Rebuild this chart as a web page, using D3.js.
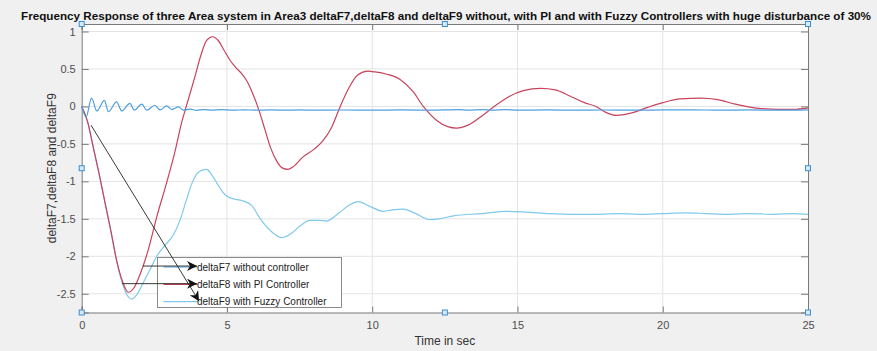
<!DOCTYPE html>
<html>
<head>
<meta charset="utf-8">
<script src="https://cdn.jsdelivr.net/npm/d3@7"></script>
<style>
  body { margin: 0; background: #f0f0f0; }
  text { font-family: "Liberation Sans", Arial, sans-serif; }
</style>
</head>
<body>
<div id="d3-container"></div>
<script>
// series: [time in sec, value]
const deltaF7 = [
    [0, 0], [0.15, -0.14], [0.34, 0.11], [0.52, -0.06], [0.78, 0.08], [0.92, -0.07],
    [1.2, 0.06], [1.38, -0.06], [1.66, 0.04], [1.81, -0.05], [2.07, 0.03], [2.24, -0.05],
    [2.52, 0.016], [2.7, -0.047], [2.93, 0.007], [3.1, -0.04], [3.33, -0.007], [3.5, -0.05],
    [3.73, -0.037], [3.95, -0.052], [4.2, -0.042], [4.5, -0.05], [4.8, -0.043], [5.2, -0.05],
    [5.6, -0.045], [6.0, -0.05], [6.5, -0.046], [7.0, -0.05], [7.5, -0.046], [8.0, -0.05],
    [9, -0.048], [10, -0.05], [11, -0.047], [12, -0.05], [13, -0.043], [13.3, -0.05],
    [13.8, -0.042], [14.1, -0.05], [14.6, -0.043], [15, -0.05], [16, -0.047], [17, -0.05],
    [18, -0.048], [19, -0.05], [20, -0.047], [21, -0.045], [22, -0.05], [23, -0.047],
    [24, -0.05], [25, -0.045]
];

const deltaF8 = [
    [0, 0], [0.2, -0.2], [0.4, -0.55], [0.6, -0.9], [0.8, -1.28], [1.0, -1.65], [1.2, -2.05],
    [1.4, -2.33], [1.6, -2.48], [1.8, -2.42], [2.0, -2.25], [2.3, -1.9], [2.6, -1.45],
    [2.9, -1.05], [3.2, -0.62], [3.45, -0.2], [3.6, 0.0], [3.9, 0.4], [4.1, 0.68], [4.3, 0.88],
    [4.5, 0.93], [4.7, 0.88], [4.9, 0.75], [5.1, 0.62], [5.3, 0.52], [5.5, 0.44], [5.7, 0.33],
    [5.9, 0.16], [6.1, -0.05], [6.3, -0.3], [6.5, -0.55], [6.7, -0.72], [6.9, -0.82],
    [7.1, -0.84], [7.3, -0.8], [7.6, -0.68], [8.0, -0.57], [8.3, -0.46], [8.6, -0.28],
    [8.9, 0.0], [9.2, 0.25], [9.5, 0.42], [9.85, 0.47], [10.1, 0.46], [10.5, 0.43],
    [10.96, 0.36], [11.4, 0.2], [11.76, 0], [12.2, -0.18], [12.6, -0.27], [12.9, -0.29],
    [13.3, -0.25], [13.8, -0.12], [14.2, 0], [14.7, 0.13], [15.2, 0.21], [15.8, 0.24],
    [16.3, 0.22], [16.8, 0.14], [17.3, 0.05], [17.7, 0], [18.1, -0.09], [18.4, -0.12],
    [18.9, -0.09], [19.5, -0.01], [20.0, 0.05], [20.6, 0.1], [21.3, 0.11], [21.9, 0.09],
    [22.5, 0.03], [23.0, -0.01], [23.4, -0.03], [24, -0.04], [24.5, -0.04], [25, -0.02]
];

const deltaF9 = [
    [0, 0], [0.2, -0.2], [0.4, -0.55], [0.6, -0.9], [0.8, -1.28], [1.0, -1.66], [1.2, -2.06],
    [1.4, -2.36], [1.55, -2.51], [1.72, -2.57], [1.9, -2.51], [2.12, -2.35], [2.35, -2.18],
    [2.58, -2.0], [2.85, -1.86], [3.15, -1.72], [3.4, -1.5], [3.61, -1.24], [3.8, -1.02],
    [3.96, -0.9], [4.15, -0.85], [4.3, -0.84], [4.45, -0.9], [4.65, -1.02], [4.85, -1.14],
    [5.0, -1.2], [5.3, -1.24], [5.55, -1.26], [5.85, -1.32], [6.15, -1.5], [6.5, -1.66],
    [6.88, -1.75], [7.2, -1.7], [7.5, -1.6], [7.86, -1.52], [8.15, -1.52], [8.43, -1.53],
    [8.8, -1.44], [9.2, -1.32], [9.52, -1.27], [9.9, -1.33], [10.38, -1.4], [10.7, -1.38],
    [11.07, -1.37], [11.5, -1.43], [11.99, -1.51], [12.3, -1.5], [12.8, -1.46], [13.8, -1.43],
    [14.6, -1.4], [15.3, -1.41], [16.1, -1.43], [17.0, -1.44], [17.8, -1.44], [18.5, -1.43],
    [19.2, -1.44], [20, -1.43], [20.8, -1.42], [21.5, -1.43], [22.3, -1.44], [23, -1.43],
    [23.8, -1.44], [24.5, -1.43], [25, -1.44]
];

const xTicks = [0, 5, 10, 15, 20, 25];
const yTicks = [1, 0.5, 0, -0.5, -1, -1.5, -2, -2.5];
const legendLabels = ['deltaF7 without controller', 'deltaF8 with PI Controller', 'deltaF9 with Fuzzy Controller'];
const colors = ['#4f9fdf', '#c8435d', '#7fc9ec'];

// annotation arrows, in data units: [t0, v0, t1, v1]
const arrows = [
    [2.11, -2.13, 3.97, -2.13],
    [1.39, -2.365, 3.97, -2.365],
    [0.32, -0.25, 4.04, -2.6]
];

const width = 877;
const height = 351;
const margin = {top: 24, bottom: 38.5, left: 81.7, right: 69};

const svg = d3.select('#d3-container')
    .append('svg')
    .attr('width', width)
    .attr('height', height)
    .attr('viewBox', [0, 0, width, height]);

svg.append('rect').attr('width', width).attr('height', height).attr('fill', '#f0f0f0');

const x = d3.scaleLinear()
    .domain([0, 25])
    .range([margin.left, width - margin.right]);

const y = d3.scaleLinear()
    .domain([-2.75, 1.1])
    .range([height - margin.bottom, margin.top]);

const [x0, x1] = x.range();
const [y0, y1] = y.range();

// plot area
svg.append('rect')
    .attr('x', x0).attr('y', y1)
    .attr('width', x1 - x0).attr('height', y0 - y1)
    .attr('fill', '#fff');

// grid
svg.append('g')
    .attr('stroke', '#e4e4e4')
    .selectAll('line.gx')
    .data(xTicks.slice(1, -1))
    .join('line')
        .attr('x1', d => x(d)).attr('x2', d => x(d))
        .attr('y1', y1).attr('y2', y0);

svg.append('g')
    .attr('stroke', '#e4e4e4')
    .selectAll('line')
    .data(yTicks)
    .join('line')
        .attr('x1', x0).attr('x2', x1)
        .attr('y1', d => y(d)).attr('y2', d => y(d));

// axes (matlab style: plain hyphen minus)
const fmt = d => String(d);

function xAxis(g) {
    g.attr('transform', `translate(0, ${y0})`)
        .call(d3.axisBottom(x).tickValues(xTicks).tickSize(-6).tickPadding(9).tickFormat(fmt))
        .call(g => g.selectAll('text').attr('fill', '#4d4d4d').attr('font-size', '11px'));
}

function yAxis(g) {
    g.attr('transform', `translate(${x0}, 0)`)
        .call(d3.axisLeft(y).tickValues(yTicks).tickSize(-7).tickPadding(6).tickFormat(fmt))
        .call(g => g.selectAll('text').attr('fill', '#4d4d4d').attr('font-size', '11px'));
}

function topAxis(g) {
    g.attr('transform', `translate(0, ${y1})`)
        .call(d3.axisTop(x).tickValues(xTicks).tickSize(-6).tickFormat(''));
}

function rightAxis(g) {
    g.attr('transform', `translate(${x1}, 0)`)
        .call(d3.axisRight(y).tickValues(yTicks).tickSize(-7).tickFormat(''));
}

[xAxis, yAxis, topAxis, rightAxis].forEach(fn => {
    const g = svg.append('g').call(fn);
    g.select('.domain').attr('stroke', '#7a7a7a');
    g.selectAll('.tick line').attr('stroke', '#7a7a7a');
});

// lines
const line = d3.line()
    .x(d => x(d[0]))
    .y(d => y(d[1]))
    .curve(d3.curveMonotoneX);

const series = [deltaF7, deltaF8, deltaF9];
// draw order: fuzzy below, PI and without on top
[2, 1, 0].forEach(i => {
    svg.append('path')
        .datum(series[i])
        .attr('fill', 'none')
        .attr('stroke', colors[i])
        .attr('stroke-width', 1.2)
        .attr('d', line);
});

// legend
const legend = svg.append('g').attr('transform', 'translate(157.5, 257.5)');
legend.append('rect')
    .attr('width', 184).attr('height', 50)
    .attr('fill', '#fff').attr('stroke', '#6e6e6e').attr('stroke-width', 0.8);

legendLabels.forEach((label, i) => {
    const cy = 9.5 + i * 17.3;
    legend.append('line')
        .attr('x1', 6).attr('x2', 40)
        .attr('y1', cy).attr('y2', cy)
        .attr('stroke', colors[i]).attr('stroke-width', 1.2);
    legend.append('text')
        .attr('x', 39.5).attr('y', cy + 3.6)
        .attr('font-size', '10px')
        .attr('fill', '#222')
        .text(label);
});

// arrows
svg.append('defs').append('marker')
    .attr('id', 'head')
    .attr('viewBox', '0 0 10 10')
    .attr('refX', 10).attr('refY', 5)
    .attr('markerWidth', 10).attr('markerHeight', 10)
    .attr('markerUnits', 'userSpaceOnUse')
    .attr('orient', 'auto')
    .append('path')
        .attr('d', 'M0,0 L10,5 L0,10 L3,5 Z')
        .attr('fill', '#111');

svg.append('g')
    .selectAll('line')
    .data(arrows)
    .join('line')
        .attr('x1', d => x(d[0])).attr('y1', d => y(d[1]))
        .attr('x2', d => x(d[2])).attr('y2', d => y(d[3]))
        .attr('stroke', '#222').attr('stroke-width', 0.9)
        .attr('marker-end', 'url(#head)');

// selection handles on the axes box
const hx = [x0, (x0 + x1) / 2, x1];
const hy = [y1, (y0 + y1) / 2, y0];
const handles = [];
hx.forEach((px, i) => hy.forEach((py, j) => { if (!(i === 1 && j === 1)) handles.push([px, py]); }));
svg.append('g')
    .selectAll('rect')
    .data(handles)
    .join('rect')
        .attr('x', d => d[0] - 2.5).attr('y', d => d[1] - 2.5)
        .attr('width', 5).attr('height', 5)
        .attr('fill', '#d7eaf8').attr('stroke', '#3a8fd6').attr('stroke-width', 1);

// texts
svg.append('text')
    .attr('x', 446).attr('y', 20)
    .attr('text-anchor', 'middle')
    .attr('font-size', '11.5px')
    .attr('font-weight', 'bold')
    .attr('fill', '#111')
    .attr('textLength', 850)
    .attr('lengthAdjust', 'spacingAndGlyphs')
    .text('Frequency Response of three Area system in Area3 deltaF7,deltaF8 and deltaF9 without, with PI and with Fuzzy Controllers with huge disturbance of 30%');

svg.append('text')
    .attr('x', (x0 + x1) / 2).attr('y', 345)
    .attr('text-anchor', 'middle')
    .attr('font-size', '12px')
    .attr('fill', '#333')
    .text('Time in sec');

svg.append('text')
    .attr('transform', `translate(56, ${(y0 + y1) / 2}) rotate(-90)`)
    .attr('text-anchor', 'middle')
    .attr('font-size', '12px')
    .attr('fill', '#333')
    .text('deltaF7,deltaF8 and deltaF9');

svg.node();
</script>
</body>
</html>
